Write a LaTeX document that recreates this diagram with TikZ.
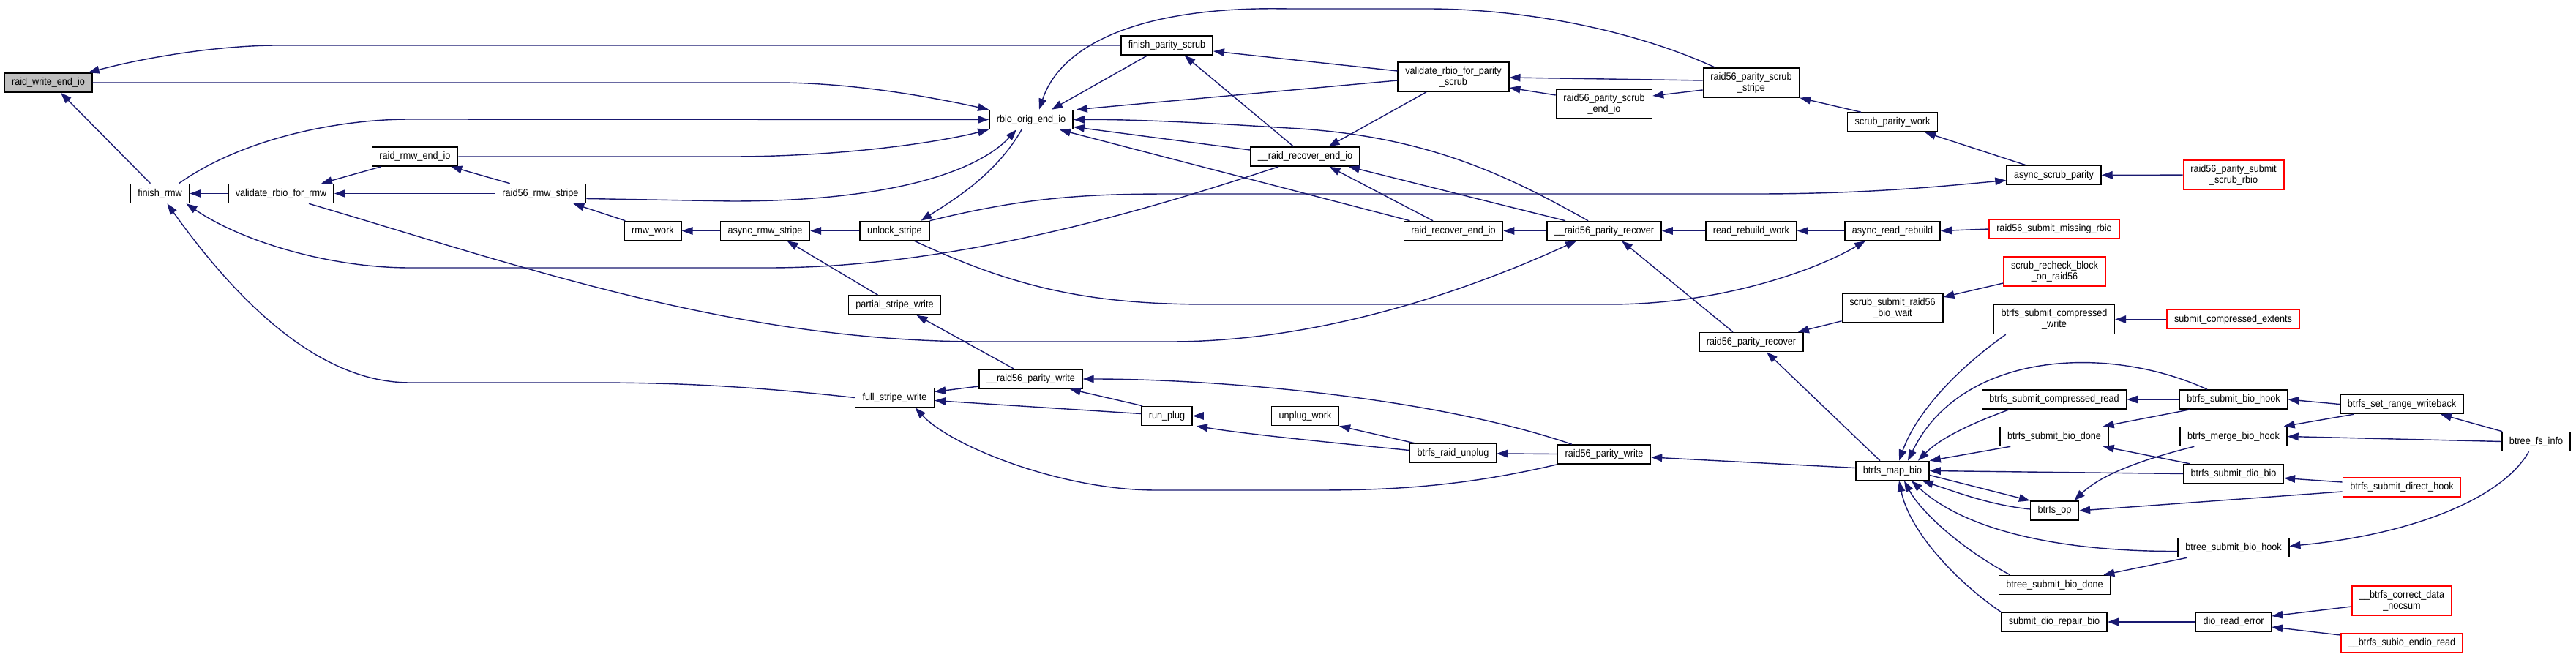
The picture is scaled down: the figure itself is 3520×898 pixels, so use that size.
\documentclass[tikz,border=0pt]{standalone}
\usepackage{fontspec}
\setmainfont{Liberation Sans}[FakeStretch=0.9]
\usetikzlibrary{arrows.meta,calc}
\definecolor{Edge}{HTML}{191970}
\definecolor{Leaf}{HTML}{FF0000}
\definecolor{Focus}{HTML}{BFBFBF}

\begin{document}
\begin{tikzpicture}[x=0.02cm,y=-0.02cm,
  fn/.style={draw=black,line width=0.9pt,fill=white,font=\fontsize{8}{8.6}\selectfont,inner xsep=0.2cm,inner ysep=0pt,minimum height=0.52cm,align=center},
  two/.style={minimum height=0.8cm},
  ext/.style={fn,draw=Leaf},
  call/.style={Edge,line width=0.8pt,-{Triangle[length=8.5pt,width=6pt]}}]
\useasboundingbox (0,0) rectangle (3520,898);
\node[fn,fill=Focus] (rweio) at (66,113) {raid\_write\_end\_io};
\node[fn] (frmw) at (218.5,264.5) {finish\_rmw};
\node[fn] (vrmw) at (384,264.5) {validate\_rbio\_for\_rmw};
\node[fn] (rrmwio) at (567,214) {raid\_rmw\_end\_io};
\node[fn] (rmwstripe) at (738.5,264.5) {raid56\_rmw\_stripe};
\node[fn] (rmwwork) at (892,315.5) {rmw\_work};
\node[fn] (asrmw) at (1045.5,315.5) {async\_rmw\_stripe};
\node[fn] (unlock) at (1222.5,315.5) {unlock\_stripe};
\node[fn] (partial) at (1222.5,417) {partial\_stripe\_write};
\node[fn] (origio) at (1409,163.5) {rbio\_orig\_end\_io};
\node[fn] (fpscrub) at (1594.5,62) {finish\_parity\_scrub};
\node[fn] (rrecio) at (1783.5,214) {\_\_raid\_recover\_end\_io};
\node[fn,two] (vscrub) at (1986,105) {validate\_rbio\_for\_parity\\\_scrub};
\node[fn,two] (scrubio) at (2192,142) {raid56\_parity\_scrub\\\_end\_io};
\node[fn,two] (scrubstripe) at (2393,113) {raid56\_parity\_scrub\\\_stripe};
\node[fn] (scrubwork) at (2586,167) {scrub\_parity\_work};
\node[fn] (asscrub) at (2806.5,239.5) {async\_scrub\_parity};
\node[ext,two] (submitscrub) at (3052,239) {raid56\_parity\_submit\\\_scrub\_rbio};
\node[fn] (recio) at (1986,315.5) {raid\_recover\_end\_io};
\node[fn] (prec) at (2192,315.5) {\_\_raid56\_parity\_recover};
\node[fn] (rbwork) at (2393,315.5) {read\_rebuild\_work};
\node[fn] (asrebuild) at (2586,315.5) {async\_read\_rebuild};
\node[ext] (missing) at (2807,313) {raid56\_submit\_missing\_rbio};
\node[fn,two] (biowait) at (2586,421) {scrub\_submit\_raid56\\\_bio\_wait};
\node[ext,two] (recheck) at (2807.5,371) {scrub\_recheck\_block\\\_on\_raid56};
\node[fn,two] (cwrite) at (2807,436.5) {btrfs\_submit\_compressed\\\_write};
\node[ext] (cextents) at (3051.5,436.5) {submit\_compressed\_extents};
\node[fn] (precover) at (2393,467.5) {raid56\_parity\_recover};
\node[fn] (pwriteint) at (1408.5,518) {\_\_raid56\_parity\_write};
\node[fn] (fullwrite) at (1222.5,543.5) {full\_stripe\_write};
\node[fn] (runplug) at (1594.5,568.5) {run\_plug};
\node[fn] (unplugwork) at (1783.5,568.5) {unplug\_work};
\node[fn] (unplug) at (1985.5,619.5) {btrfs\_raid\_unplug};
\node[fn] (pwrite) at (2192,621) {raid56\_parity\_write};
\node[fn] (mapbio) at (2586,643.5) {btrfs\_map\_bio};
\node[fn] (cread) at (2807,546) {btrfs\_submit\_compressed\_read};
\node[fn] (biohook) at (3052,546) {btrfs\_submit\_bio\_hook};
\node[fn] (rangewb) at (3282,552.5) {btrfs\_set\_range\_writeback};
\node[fn] (biodone) at (2807,596.5) {btrfs\_submit\_bio\_done};
\node[fn] (mergehook) at (3052,596.5) {btrfs\_merge\_bio\_hook};
\node[fn] (fsinfo) at (3465.5,603.5) {btree\_fs\_info};
\node[fn] (diobio) at (3052,647.5) {btrfs\_submit\_dio\_bio};
\node[ext] (directhook) at (3282,666) {btrfs\_submit\_direct\_hook};
\node[fn] (btrfsop) at (2807.5,698) {btrfs\_op};
\node[fn] (btreehook) at (3052,748.5) {btree\_submit\_bio\_hook};
\node[fn] (btreedone) at (2807.5,799.5) {btree\_submit\_bio\_done};
\node[fn] (repairbio) at (2807,850) {submit\_dio\_repair\_bio};
\node[fn] (dioerr) at (3052,850) {dio\_read\_error};
\node[ext,two] (nocsum) at (3282,821) {\_\_btrfs\_correct\_data\\\_nocsum};
\node[ext] (endioread) at (3282,879) {\_\_btrfs\_subio\_endio\_read};
\draw[call] (fpscrub.west) -- (380,62) .. controls (300,62) and (200,78) .. ($(rweio.north east)+(-6,0)$);
\draw[call] (rweio.east) -- (1060,113) .. controls (1160,113) and (1260,130) .. (origio.north west);
\draw[call] ($(frmw.north)+(-13,0)$) -- ($(rweio.south)+(17,0)$);
\draw[call] ($(frmw.north)+(26,0)$) .. controls (330,190) and (460,163) .. (560,163) -- (origio.west);
\draw[call] (vrmw) -- (frmw);
\draw[call] ($(rrecio.south west)+(39,0)$) .. controls (1560,290) and (1300,366) .. (1050,366) -- (560,366) .. controls (450,366) and (330,330) .. ($(frmw.south east)+(-5,0)$);
\draw[call] (fullwrite.west) .. controls (1000,525) and (900,523) .. (800,523) -- (560,523) .. controls (440,523) and (330,420) .. ($(frmw.south)+(10,0)$);
\draw[call] ($(rrmwio.south west)+(13,0)$) -- ($(vrmw.north)+(55,0)$);
\draw[call] (rmwstripe) -- (vrmw);
\draw[call] ($(vrmw.south)+(38,0)$) .. controls (700,360) and (1000,467) .. (1340,467) -- (1600,467) .. controls (1800,467) and (2000,400) .. ($(prec.south west)+(41,0)$);
\draw[call] ($(rmwstripe.north west)+(21,0)$) -- ($(rrmwio.south east)+(-10,0)$);
\draw[call] (rrmwio.east) -- (1000,214) .. controls (1150,214) and (1280,195) .. (origio.south west);
\draw[call] ($(rmwstripe.east)+(0,7)$) -- (1000,275) .. controls (1230,275) and (1340,230) .. ($(origio.south)+(-20,0)$);
\draw[call] ($(rmwwork.north west)+(2,0)$) -- ($(rmwstripe.south east)+(-18,0)$);
\draw[call] (asrmw) -- (rmwwork);
\draw[call] (unlock) -- (asrmw);
\draw[call] ($(partial.north)+(-23,0)$) -- ($(asrmw.south)+(30,0)$);
\draw[call] ($(origio.south)+(-13,0)$) .. controls (1360,240) and (1300,275) .. ($(unlock.north)+(36,0)$);
\draw[call] (unlock.north east) .. controls (1400,270) and (1480,265) .. (1600,265) -- (2400,265) .. controls (2550,265) and (2650,255) .. ($(asscrub.west)+(0,7)$);
\draw[call] ($(unlock.south)+(27,0)$) .. controls (1380,390) and (1480,416) .. (1650,416) -- (2200,416) .. controls (2350,416) and (2480,370) .. ($(asrebuild.south)+(-37,0)$);
\draw[call] ($(pwriteint.north)+(-23,0)$) -- ($(partial.south)+(30,0)$);
\draw[call] ($(fpscrub.south west)+(37,0)$) -- ($(origio.north)+(28,0)$);
\draw[call] ($(scrubstripe.north west)+(17,0)$) .. controls (2230,40) and (2080,12) .. (1950,12) -- (1760,12) .. controls (1560,8) and (1450,60) .. ($(origio.north)+(11,0)$);
\draw[call] ($(vscrub.west)+(0,5)$) -- ($(origio.north east)+(4,0)$);
\draw[call] ($(prec.north)+(-22,0)$) .. controls (2060,240) and (1950,185) .. (1760,175) .. controls (1650,168) and (1550,163) .. (origio.east);
\draw[call] ($(rrecio.west)+(0,-9)$) -- ($(origio.east)+(0,10)$);
\draw[call] ($(recio.north west)+(9,0)$) -- ($(origio.south east)+(-19,0)$);
\draw[call] ($(vscrub.west)+(0,-8)$) -- ($(fpscrub.east)+(0,8)$);
\draw[call] ($(rrecio.north)+(-16,0)$) -- ($(fpscrub.south)+(24,0)$);
\draw[call] ($(vscrub.south)+(-37,0)$) -- ($(rrecio.north)+(32,0)$);
\draw[call] ($(recio.north)+(-28,0)$) -- ($(rrecio.south)+(33,0)$);
\draw[call] ($(prec.north)+(-53,0)$) -- ($(rrecio.south east)+(-16,0)$);
\draw[call] (prec) -- (recio);
\draw[call] ($(scrubstripe.west)+(0,-3)$) -- ($(vscrub.east)+(0,1)$);
\draw[call] ($(scrubio.west)+(0,-12)$) -- ($(vscrub.east)+(0,15)$);
\draw[call] ($(scrubstripe.west)+(0,10)$) -- ($(scrubio.east)+(0,-11)$);
\draw[call] ($(scrubwork.north west)+(19,0)$) -- (scrubstripe.south east);
\draw[call] ($(asscrub.north west)+(27,0)$) -- ($(scrubwork.south east)+(-18,0)$);
\draw[call] (submitscrub) -- (asscrub);
\draw[call] (rbwork) -- (prec);
\draw[call] (asrebuild) -- (rbwork);
\draw[call] (missing.west) -- (asrebuild.east);
\draw[call] ($(precover.north)+(-25,0)$) -- ($(prec.south)+(24,0)$);
\draw[call] ($(biowait.south west)+(0,-3)$) -- ($(precover.north east)+(-8,0)$);
\draw[call] ($(recheck.west)+(0,16)$) -- ($(biowait.east)+(0,-15)$);
\draw[call] ($(mapbio.north)+(-17,0)$) -- ($(precover.south)+(21,0)$);
\draw[call] ($(mapbio.west)+(0,-4)$) -- ($(pwrite.east)+(0,4)$);
\draw[call] (pwrite) -- (unplug);
\draw[call] ($(pwrite.north west)+(20,0)$) .. controls (1950,540) and (1650,518) .. (pwriteint.east);
\draw[call] (pwrite.south west) .. controls (2000,665) and (1900,670) .. (1800,670) -- (1580,670) .. controls (1450,670) and (1300,610) .. ($(fullwrite.south)+(28,0)$);
\draw[call] ($(unplug.north west)+(7,0)$) -- (unplugwork.south east);
\draw[call] ($(unplug.west)+(0,-4)$) .. controls (1800,603) and (1700,593) .. ($(runplug.south east)+(5,0)$);
\draw[call] (unplugwork) -- (runplug);
\draw[call] ($(runplug.west)+(0,-3)$) -- ($(fullwrite.east)+(0,4)$);
\draw[call] ($(runplug.north west)+(2,0)$) -- ($(pwriteint.south east)+(-18,0)$);
\draw[call] ($(pwriteint.west)+(0,10)$) -- ($(fullwrite.east)+(0,-8)$);
\draw[call] ($(cwrite.south west)+(17,0)$) .. controls (2680,500) and (2620,560) .. ($(mapbio.north)+(9,0)$);
\draw[call] (cextents) -- (cwrite);
\draw[call] ($(biohook.north)+(-36,0)$) .. controls (2880,470) and (2680,480) .. ($(mapbio.north)+(21,0)$);
\draw[call] ($(cread.south west)+(38,0)$) .. controls (2690,580) and (2650,600) .. ($(mapbio.north)+(35,0)$);
\draw[call] (biohook) -- (cread);
\draw[call] ($(biodone.south west)+(15,0)$) -- (mapbio.north east);
\draw[call] ($(biohook.south west)+(15,0)$) -- ($(biodone.north east)+(-8,0)$);
\draw[call] ($(diobio.north west)+(9,0)$) -- ($(biodone.south east)+(-8,0)$);
\draw[call] (diobio.west) -- (mapbio.east);
\draw[call] ($(mapbio.east)+(0,6)$) -- (btrfsop.north west);
\draw[call] ($(btrfsop.west)+(0,-2)$) .. controls (2720,690) and (2680,675) .. ($(mapbio.south east)+(-10,0)$);
\draw[call] ($(mergehook.south west)+(20,0)$) .. controls (2920,630) and (2870,650) .. ($(btrfsop.north east)+(-7,0)$);
\draw[call] ($(directhook.west)+(0,6)$) -- (btrfsop.east);
\draw[call] ($(directhook.west)+(0,-7)$) -- ($(diobio.east)+(0,6)$);
\draw[call] (rangewb.west) -- (biohook.east);
\draw[call] ($(rangewb.south west)+(19,0)$) -- ($(mergehook.north east)+(-5,0)$);
\draw[call] ($(fsinfo.north west)+(1,0)$) -- ($(rangewb.south)+(53,0)$);
\draw[call] (fsinfo.west) -- (mergehook.east);
\draw[call] ($(fsinfo.south)+(-10,0)$) .. controls (3420,680) and (3300,730) .. ($(btreehook.east)+(0,-2)$);
\draw[call] ($(btreehook.west)+(0,5)$) .. controls (2800,754) and (2680,720) .. ($(mapbio.south)+(26,0)$);
\draw[call] ($(btreehook.south west)+(13,0)$) -- ($(btreedone.north east)+(-10,0)$);
\draw[call] ($(btreedone.north west)+(16,0)$) .. controls (2680,750) and (2625,700) .. ($(mapbio.south)+(16,0)$);
\draw[call] (repairbio.north west) .. controls (2680,800) and (2610,730) .. ($(mapbio.south)+(9,0)$);
\draw[call] (dioerr) -- (repairbio);
\draw[call] ($(nocsum.west)+(0,8)$) -- ($(dioerr.east)+(0,-8)$);
\draw[call] ($(endioread.west)+(0,-11)$) -- ($(dioerr.east)+(0,7)$);
\end{tikzpicture}
\end{document}
